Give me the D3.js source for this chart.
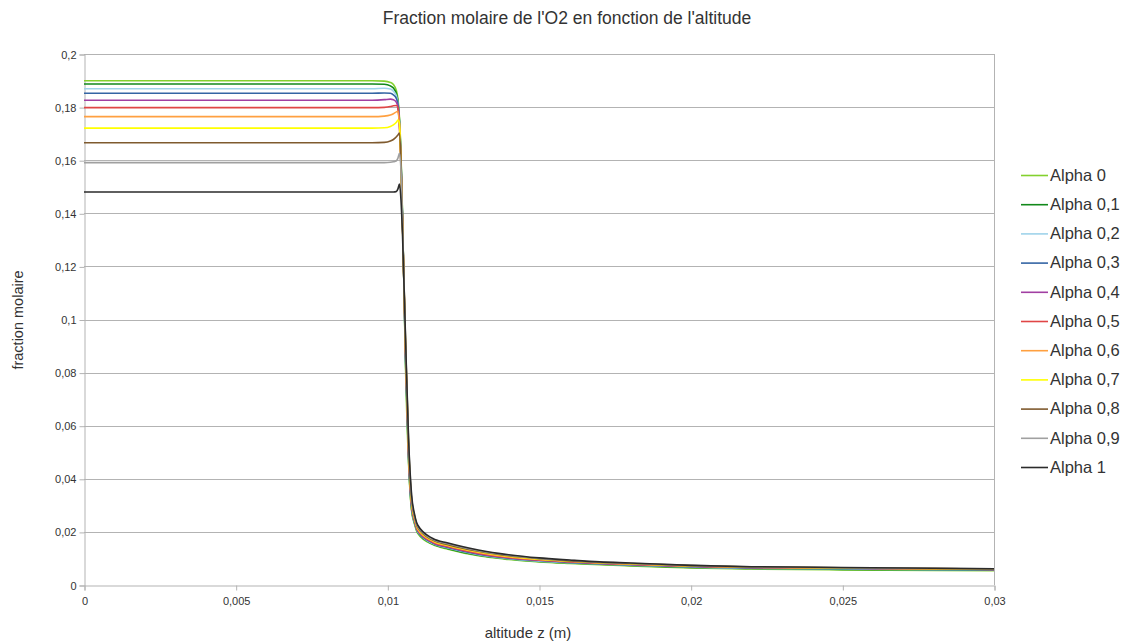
<!DOCTYPE html>
<html>
<head>
<meta charset="utf-8">
<script src="https://cdn.jsdelivr.net/npm/d3@7"></script>
<style>
  html, body { margin: 0; padding: 0; background: #fff; }
  svg { display: block; font-family: "Liberation Sans", Arial, sans-serif; }
</style>
</head>
<body>
<svg id="chart" width="1129" height="644"></svg>
<script>
// Altitude z (m) sample positions shared by every series
const altitude = [0, 0.003, 0.006, 0.0095, 0.0099, 0.0101, 0.0102, 0.0103, 0.01035, 0.0104,
  0.01045, 0.0105, 0.0106, 0.0107, 0.0108, 0.0109, 0.011, 0.0115, 0.012, 0.013,
  0.014, 0.015, 0.016, 0.017, 0.018, 0.02, 0.022, 0.025, 0.028, 0.03];

// O2 molar fraction for each value of alpha
const alpha0 = [0.1899, 0.1899, 0.1899, 0.1899, 0.1898, 0.1893, 0.1885, 0.1862, 0.183, 0.176,
  0.162, 0.140, 0.082, 0.046, 0.028, 0.0228, 0.0195, 0.0152, 0.0135, 0.0110,
  0.0096, 0.0087, 0.0081, 0.0076, 0.0072, 0.0064, 0.0060, 0.0057, 0.0055, 0.0054];
const alpha01 = [0.1887, 0.1887, 0.1887, 0.1887, 0.1886, 0.1880, 0.1872, 0.1850, 0.182, 0.175,
  0.161, 0.139, 0.084, 0.047, 0.0285, 0.0232, 0.0198, 0.0154, 0.0137, 0.0112,
  0.0098, 0.0089, 0.0083, 0.0078, 0.0074, 0.0066, 0.0062, 0.0059, 0.0057, 0.0056];
const alpha02 = [0.1869, 0.1869, 0.1869, 0.1869, 0.1871, 0.1868, 0.1860, 0.1842, 0.1815, 0.1745,
  0.160, 0.138, 0.085, 0.048, 0.029, 0.0235, 0.0200, 0.0156, 0.0139, 0.0114,
  0.0099, 0.0090, 0.0084, 0.0079, 0.0075, 0.0068, 0.0063, 0.0061, 0.0058, 0.0058];
const alpha03 = [0.1852, 0.1852, 0.1852, 0.1852, 0.1853, 0.1852, 0.1846, 0.1832, 0.181, 0.174,
  0.160, 0.138, 0.086, 0.049, 0.0295, 0.0238, 0.0203, 0.0158, 0.0141, 0.0116,
  0.0101, 0.0092, 0.0085, 0.0080, 0.0076, 0.0069, 0.0064, 0.0062, 0.0059, 0.0058];
const alpha04 = [0.1826, 0.1826, 0.1826, 0.1826, 0.1828, 0.1830, 0.1828, 0.1818, 0.180, 0.1735,
  0.159, 0.137, 0.087, 0.049, 0.030, 0.0241, 0.0205, 0.0160, 0.0143, 0.0118,
  0.0103, 0.0093, 0.0087, 0.0081, 0.0077, 0.0070, 0.0066, 0.0063, 0.0061, 0.0059];
const alpha05 = [0.1798, 0.1798, 0.1798, 0.1798, 0.1799, 0.1802, 0.1805, 0.1806, 0.1795, 0.173,
  0.158, 0.137, 0.088, 0.050, 0.0305, 0.0244, 0.0208, 0.0162, 0.0145, 0.0120,
  0.0104, 0.0094, 0.0088, 0.0082, 0.0078, 0.0071, 0.0066, 0.0064, 0.0060, 0.0059];
const alpha06 = [0.1764, 0.1764, 0.1764, 0.1764, 0.1766, 0.1770, 0.1775, 0.1782, 0.1784, 0.172,
  0.157, 0.136, 0.089, 0.051, 0.031, 0.0248, 0.0211, 0.0165, 0.0148, 0.0123,
  0.0106, 0.0096, 0.0089, 0.0083, 0.0079, 0.0072, 0.0067, 0.0063, 0.0062, 0.0060];
const alpha07 = [0.1721, 0.1721, 0.1721, 0.1721, 0.1722, 0.1727, 0.1733, 0.1743, 0.1751, 0.174,
  0.158, 0.136, 0.090, 0.052, 0.0315, 0.0252, 0.0214, 0.0167, 0.0150, 0.0125,
  0.0108, 0.0097, 0.0090, 0.0084, 0.0080, 0.0072, 0.0068, 0.0064, 0.0061, 0.0060];
const alpha08 = [0.1666, 0.1666, 0.1666, 0.1666, 0.1667, 0.1672, 0.1678, 0.1688, 0.1695, 0.1702,
  0.160, 0.137, 0.091, 0.053, 0.032, 0.0256, 0.0217, 0.0169, 0.0152, 0.0127,
  0.0110, 0.0099, 0.0091, 0.0085, 0.0081, 0.0073, 0.0068, 0.0065, 0.0062, 0.0060];
const alpha09 = [0.1591, 0.1591, 0.1591, 0.1591, 0.1591, 0.1592, 0.1594, 0.1598, 0.1608, 0.1626,
  0.156, 0.136, 0.092, 0.054, 0.033, 0.0260, 0.0221, 0.0172, 0.0155, 0.0129,
  0.0112, 0.0100, 0.0093, 0.0086, 0.0082, 0.0074, 0.0069, 0.0065, 0.0063, 0.0061];
const alpha1 = [0.1480, 0.1480, 0.1480, 0.1480, 0.1480, 0.1480, 0.1480, 0.1482, 0.1492, 0.151,
  0.145, 0.132, 0.093, 0.055, 0.034, 0.0265, 0.0226, 0.0175, 0.0158, 0.0132,
  0.0114, 0.0102, 0.0094, 0.0087, 0.0083, 0.0074, 0.0069, 0.0066, 0.0063, 0.0061];

const seriesNames = ["Alpha 0", "Alpha 0,1", "Alpha 0,2", "Alpha 0,3", "Alpha 0,4", "Alpha 0,5",
  "Alpha 0,6", "Alpha 0,7", "Alpha 0,8", "Alpha 0,9", "Alpha 1"];
const seriesValues = [alpha0, alpha01, alpha02, alpha03, alpha04, alpha05,
  alpha06, alpha07, alpha08, alpha09, alpha1];
const seriesColors = ["#83d12e", "#12891a", "#9fd3ea", "#3465a4", "#a13fa2", "#e04646",
  "#ffa040", "#ffff00", "#7f5a2e", "#a0a0a0", "#2b2b2b"];

// Axis ticks and their French-formatted labels
const xTicks = [0, 0.005, 0.01, 0.015, 0.02, 0.025, 0.03];
const xTickLabels = ["0", "0,005", "0,01", "0,015", "0,02", "0,025", "0,03"];
const yTicks = [0, 0.02, 0.04, 0.06, 0.08, 0.1, 0.12, 0.14, 0.16, 0.18, 0.2];
const yTickLabels = ["0", "0,02", "0,04", "0,06", "0,08", "0,1", "0,12", "0,14", "0,16", "0,18", "0,2"];

const svg = d3.select("#chart");
const plot = { left: 84, right: 994, top: 54, bottom: 585 };

const x = d3.scaleLinear().domain([0, 0.03]).range([plot.left, plot.right]);
const y = d3.scaleLinear().domain([0, 0.2]).range([plot.bottom, plot.top]);

const gridColor = "#b3b3b3";
const textColor = "#333";

// Horizontal grid lines
svg.append("g")
  .selectAll("line")
  .data(yTicks.slice(1))
  .join("line")
  .attr("x1", plot.left).attr("x2", plot.right)
  .attr("y1", d => Math.round(y(d)) + 0.5).attr("y2", d => Math.round(y(d)) + 0.5)
  .attr("stroke", gridColor).attr("stroke-width", 1);

// Right border of the plot area
svg.append("line")
  .attr("x1", plot.right + 0.5).attr("x2", plot.right + 0.5)
  .attr("y1", plot.top).attr("y2", plot.bottom)
  .attr("stroke", gridColor);

// Y axis
const yAxis = d3.axisLeft(y)
  .tickValues(yTicks)
  .tickFormat((d, i) => yTickLabels[i])
  .tickSize(5)
  .tickPadding(3);
const gy = svg.append("g")
  .attr("transform", `translate(${plot.left + 0.5},0.5)`)
  .call(yAxis);

// X axis
const xAxis = d3.axisBottom(x)
  .tickValues(xTicks)
  .tickFormat((d, i) => xTickLabels[i])
  .tickSize(5)
  .tickPadding(7);
const gx = svg.append("g")
  .attr("transform", `translate(0.5,${plot.bottom + 0.5})`)
  .call(xAxis);

[gx, gy].forEach(g => {
  g.select(".domain").attr("stroke", gridColor);
  g.selectAll(".tick line").attr("stroke", gridColor);
  g.selectAll(".tick text")
    .attr("fill", textColor)
    .style("font-size", "11px")
    .style("font-family", "'Liberation Sans', Arial, sans-serif");
});

// Series curves
const line = d3.line()
  .x((d, i) => x(altitude[i]))
  .y(d => y(d))
  .curve(d3.curveMonotoneX);

svg.append("g")
  .selectAll("path")
  .data(seriesValues)
  .join("path")
  .attr("d", d => line(d))
  .attr("fill", "none")
  .attr("stroke", (d, i) => seriesColors[i])
  .attr("stroke-width", 1.6)
  .attr("stroke-linejoin", "round");

// Title
svg.append("text")
  .attr("x", 567).attr("y", 24)
  .attr("text-anchor", "middle")
  .attr("fill", textColor)
  .style("font-size", "17.5px")
  .text("Fraction molaire de l'O2 en fonction de l'altitude");

// Axis titles
svg.append("text")
  .attr("transform", "translate(23,320) rotate(-90)")
  .attr("text-anchor", "middle")
  .attr("fill", textColor)
  .style("font-size", "14.5px")
  .text("fraction molaire");

svg.append("text")
  .attr("x", 528).attr("y", 638)
  .attr("text-anchor", "middle")
  .attr("fill", textColor)
  .style("font-size", "15px")
  .text("altitude z (m)");

// Legend
const legendY = d3.scalePoint().domain(seriesNames).range([175, 467]);
const legend = svg.append("g")
  .selectAll("g")
  .data(seriesNames)
  .join("g")
  .attr("transform", d => `translate(1021,${legendY(d)})`);

legend.append("line")
  .attr("x1", 0).attr("x2", 27)
  .attr("y1", 0.5).attr("y2", 0.5)
  .attr("stroke", (d, i) => seriesColors[i])
  .attr("stroke-width", 1.6);

legend.append("text")
  .attr("x", 29).attr("y", 0)
  .attr("dy", "0.35em")
  .attr("fill", textColor)
  .style("font-size", "16.5px")
  .text(d => d);
</script>
</body>
</html>
